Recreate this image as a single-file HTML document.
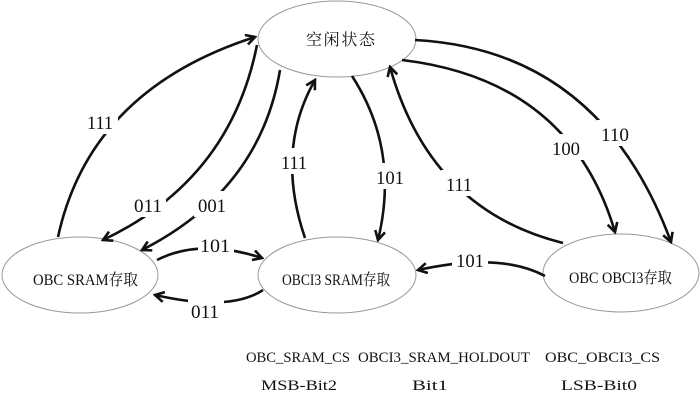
<!DOCTYPE html>
<html><head><meta charset="utf-8"><style>
html,body{margin:0;padding:0;background:#fff;}
svg{display:block;}
text{font-family:"Liberation Serif","Noto Serif CJK SC","Noto Sans CJK SC",serif;fill:#111;}
</style></head><body>
<svg width="700" height="420" viewBox="0 0 700 420" xmlns="http://www.w3.org/2000/svg">
<defs>
<marker id="a" viewBox="0 0 12 12" refX="10" refY="6" markerWidth="12" markerHeight="12" markerUnits="userSpaceOnUse" orient="auto">
<polyline points="1,1 10,6 1,11" fill="none" stroke="#111" stroke-width="2.6" stroke-linejoin="miter"/>
</marker>
</defs>
<g fill="#fff" stroke="#999" stroke-width="1">
<ellipse cx="337" cy="39" rx="79" ry="38"/>
<ellipse cx="80" cy="275" rx="78" ry="38"/>
<ellipse cx="337" cy="275" rx="79" ry="38"/>
<ellipse cx="621" cy="273" rx="78" ry="39"/>
</g>
<g fill="none" stroke="#111" stroke-width="2.6">
<path d="M58,237 Q90,90 255,37" marker-end="url(#a)"/>
<path d="M257,45 Q230,180 103,240" marker-end="url(#a)"/>
<path d="M280,70 Q260,190 142,250" marker-end="url(#a)"/>
<path d="M157,260 Q200,238 262,258" marker-end="url(#a)"/>
<path d="M263,290 Q230,312 155,295" marker-end="url(#a)"/>
<path d="M305,238 Q275,150 315,80" marker-end="url(#a)"/>
<path d="M352,76 Q400,150 378,240" marker-end="url(#a)"/>
<path d="M563,243 Q430,210 390,67" marker-end="url(#a)"/>
<path d="M402,60 Q570,80 615,232" marker-end="url(#a)"/>
<path d="M415,40 Q600,50 671,242" marker-end="url(#a)"/>
<path d="M545,276 Q500,252 418,270" marker-end="url(#a)"/>
</g>
<g fill="#fff">
<rect x="82" y="108" width="36" height="26"/>
<rect x="130" y="191" width="36" height="26"/>
<rect x="194" y="191" width="36" height="26"/>
<rect x="198" y="232" width="36" height="24"/>
<rect x="188" y="297" width="36" height="26"/>
<rect x="276" y="148" width="36" height="26"/>
<rect x="372" y="163" width="36" height="26"/>
<rect x="441" y="170" width="36" height="26"/>
<rect x="548" y="134" width="36" height="26"/>
<rect x="597" y="120" width="36" height="26"/>
<rect x="452" y="247" width="36" height="24"/>
</g>
<g font-size="19">
<text x="87" y="129" textLength="26" lengthAdjust="spacingAndGlyphs">111</text>
<text x="134" y="212" textLength="28" lengthAdjust="spacingAndGlyphs">011</text>
<text x="198" y="212" textLength="28" lengthAdjust="spacingAndGlyphs">001</text>
<text x="200" y="252" textLength="30" lengthAdjust="spacingAndGlyphs">101</text>
<text x="191" y="318" textLength="28" lengthAdjust="spacingAndGlyphs">011</text>
<text x="281" y="169" textLength="26" lengthAdjust="spacingAndGlyphs">111</text>
<text x="376" y="184" textLength="28" lengthAdjust="spacingAndGlyphs">101</text>
<text x="446" y="191" textLength="26" lengthAdjust="spacingAndGlyphs">111</text>
<text x="552" y="155" textLength="28" lengthAdjust="spacingAndGlyphs">100</text>
<text x="601" y="141" textLength="28" lengthAdjust="spacingAndGlyphs">110</text>
<text x="456" y="267" textLength="28" lengthAdjust="spacingAndGlyphs">101</text>
</g>
<g font-size="16">
<text x="306" y="45" textLength="69" lengthAdjust="spacing">空闲状态</text>
<text x="33" y="285" textLength="105" lengthAdjust="spacingAndGlyphs">OBC SRAM存取</text>
<text x="282" y="285" textLength="108" lengthAdjust="spacingAndGlyphs">OBCI3 SRAM存取</text>
<text x="569" y="283" textLength="103" lengthAdjust="spacingAndGlyphs">OBC OBCI3存取</text>
</g>
<g font-size="15">
<text x="246" y="362" textLength="104" lengthAdjust="spacingAndGlyphs">OBC_SRAM_CS</text>
<text x="358" y="362" textLength="172" lengthAdjust="spacingAndGlyphs">OBCI3_SRAM_HOLDOUT</text>
<text x="545" y="362" textLength="115" lengthAdjust="spacingAndGlyphs">OBC_OBCI3_CS</text>
<text x="261" y="390" textLength="76" lengthAdjust="spacingAndGlyphs">MSB-Bit2</text>
<text x="412" y="390" textLength="36" lengthAdjust="spacingAndGlyphs">Bit1</text>
<text x="561" y="390" textLength="76" lengthAdjust="spacingAndGlyphs">LSB-Bit0</text>
</g>
</svg>
</body></html>
